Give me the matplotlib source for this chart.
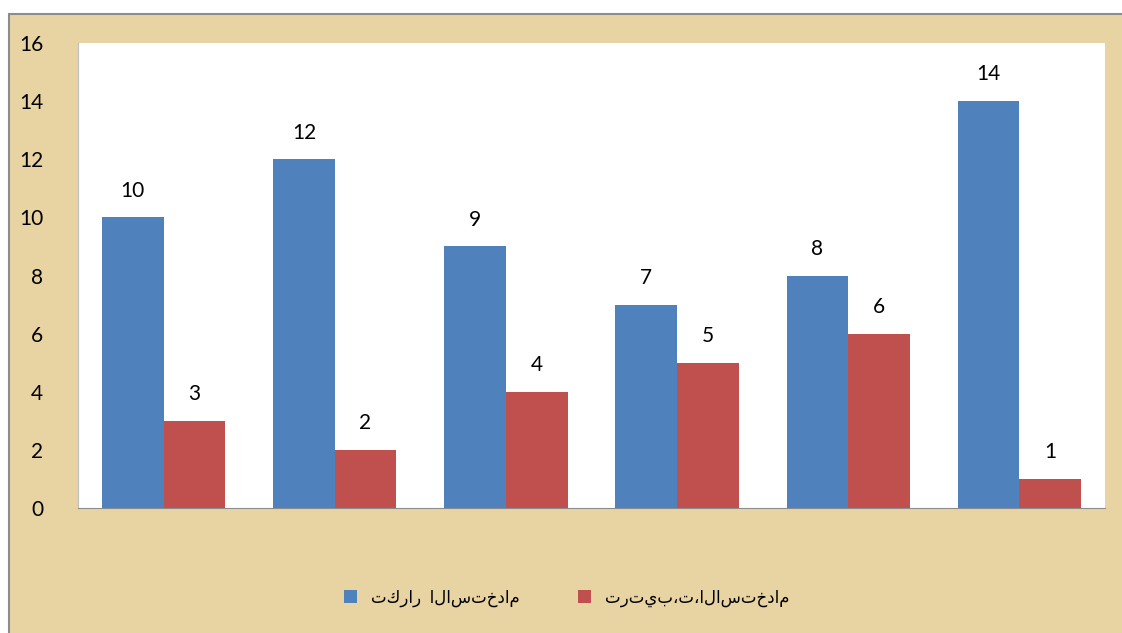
import numpy as np
import matplotlib.pyplot as plt
from matplotlib.patches import Rectangle

# Data
categories = ["1", "2", "3", "4", "5", "6"]
usage_freq = [10, 12, 9, 7, 8, 14]
usage_rank = [3, 2, 4, 5, 6, 1]
series_names = ["تكرار  الاستخدام", "ترتيب،ت،الاستخدام"]

BLUE = "#4F81BD"
RED = "#C0504D"
PARCHMENT = "#E8D4A2"

plt.rcParams['font.family'] = ['Lato', 'DejaVu Sans']

fig = plt.figure(figsize=(11.22, 6.33), dpi=100)
fig.patch.set_facecolor("white")

# parchment frame behind the plot
frame = Rectangle((9 / 1122, -0.01), 1.0, 1.01 - 14 / 633,
                  transform=fig.transFigure, facecolor=PARCHMENT,
                  edgecolor="#8C8C8C", linewidth=1.5, zorder=-10)
fig.patches.append(frame)

ax = fig.add_axes([78 / 1122, 125 / 633, 1027 / 1122, 465 / 633])
ax.set_facecolor("white")

x = np.arange(len(categories))
w = 0.36
b1 = ax.bar(x - w / 2, usage_freq, w, color=BLUE, label=series_names[0])
b2 = ax.bar(x + w / 2, usage_rank, w, color=RED, label=series_names[1])

for bars in (b1, b2):
    for bar in bars:
        ax.annotate(str(int(bar.get_height())),
                    (bar.get_x() + bar.get_width() / 2, bar.get_height()),
                    xytext=(0, 12), textcoords="offset points",
                    ha="center", va="bottom", fontsize=15)

ax.set_xlim(-0.5, len(categories) - 0.5)
ax.set_ylim(0, 16)
ax.set_yticks(range(0, 17, 2))
ax.set_xticks([])
ax.tick_params(axis="y", length=0, labelsize=15, pad=25)

for side in ("top", "right"):
    ax.spines[side].set_visible(False)
ax.spines["left"].set_color("#BFBFBF")
ax.spines["bottom"].set_color("#8C8C8C")

fig.legend(loc="center", bbox_to_anchor=(0.505, 0.055), ncol=2, frameon=False,
           fontsize=12, handlelength=0.8, handleheight=0.8, columnspacing=3.5)

fig.savefig("out.png", dpi=100)
